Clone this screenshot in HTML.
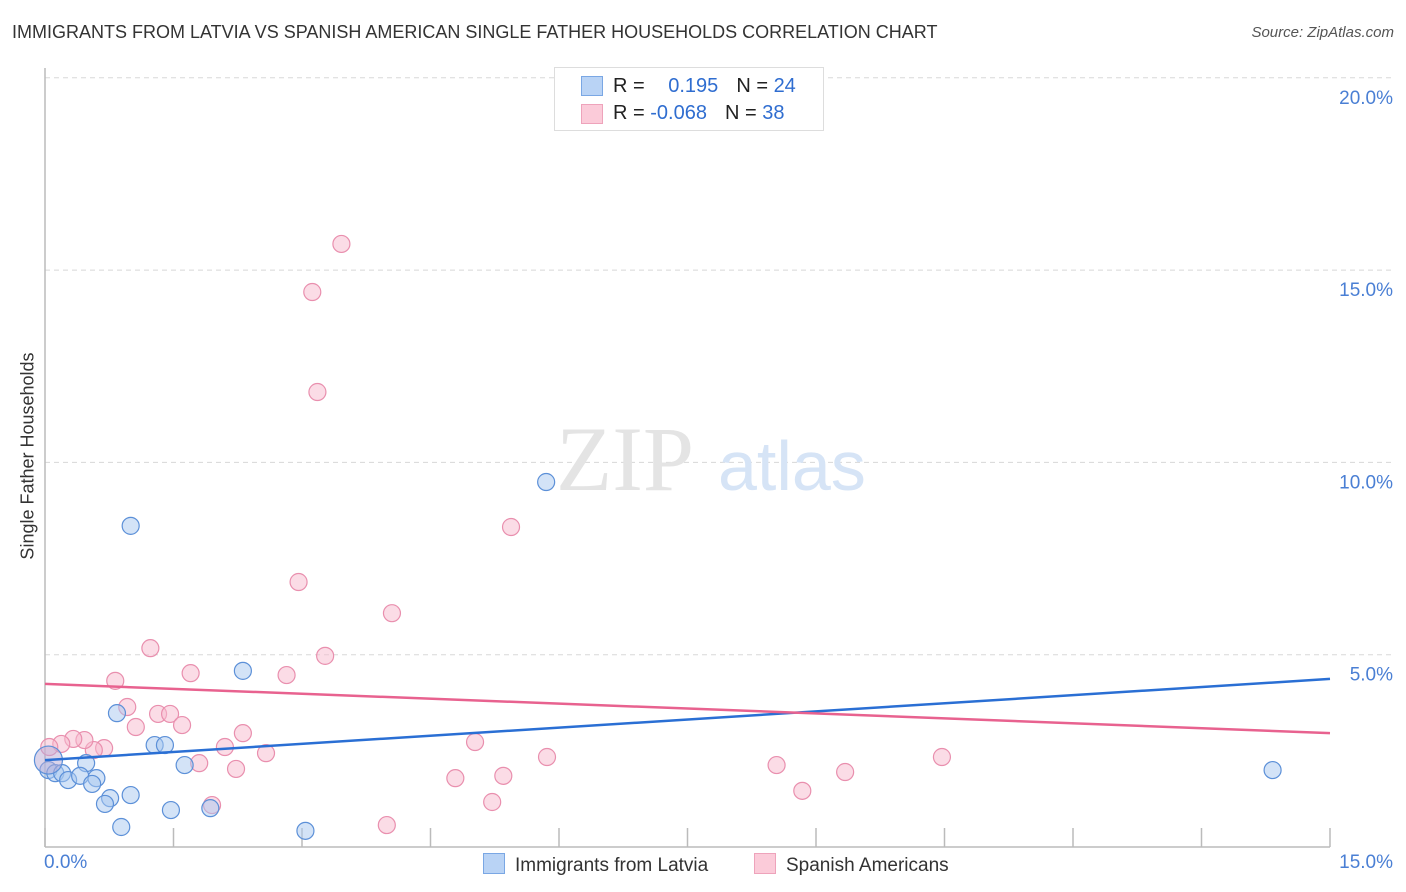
<!DOCTYPE html>
<html><head><meta charset="utf-8"><style>
body{margin:0;background:#fff;font-family:"Liberation Sans",sans-serif}
#wrap{position:relative;width:1406px;height:892px;overflow:hidden}
.t{position:absolute;white-space:nowrap}
</style></head><body>
<div id="wrap">
<div class="t" style="left:12px;top:22px;font-size:18px;color:#333">IMMIGRANTS FROM LATVIA VS SPANISH AMERICAN SINGLE FATHER HOUSEHOLDS CORRELATION CHART</div>
<div class="t" style="right:12px;top:24px;font-size:15px;color:#555;font-style:italic">Source: ZipAtlas.com</div>
<svg id="svg" width="1406" height="892" style="position:absolute;left:0;top:0"></svg>
</div>
<script>
const blueX=[1.00,5.85,2.31,0.84,1.28,1.40,1.63,0.48,0.04,0.12,0.20,0.27,0.41,0.60,0.55,0.76,0.70,1.00,0.89,1.47,1.93,3.04,14.33,0.04];
const blueY=[8.35,9.49,4.58,3.48,2.65,2.65,2.13,2.18,2.00,1.92,1.92,1.74,1.85,1.79,1.64,1.27,1.12,1.35,0.52,0.96,1.01,0.42,2.00,2.26];
const pinkX=[3.46,3.12,3.18,5.44,2.96,4.05,1.23,3.27,1.70,2.82,0.82,0.96,1.32,1.46,1.06,1.60,2.31,2.10,0.69,0.57,0.46,0.33,0.19,0.05,2.58,1.80,2.23,5.02,5.86,10.47,8.54,9.34,4.79,5.35,8.84,5.22,1.95,3.99];
const pinkY=[15.68,14.43,11.83,8.32,6.89,6.08,5.17,4.97,4.52,4.47,4.32,3.64,3.46,3.46,3.12,3.17,2.96,2.60,2.57,2.52,2.78,2.81,2.68,2.60,2.44,2.18,2.03,2.73,2.34,2.34,2.13,1.95,1.79,1.85,1.46,1.17,1.09,0.57];
const blueTrend=[2.26,4.37];
const pinkTrend=[4.24,2.96];
const yTicks=[5,10,15,20];
const yTickLabels=["5.0%","10.0%","15.0%","20.0%"];
const xTickVals=[0,1.5,3,4.5,6,7.5,9,10.5,12,13.5,15];
const X0=45,X1=1330,Y0=847,PPY=38.46;
const sx=v=>X0+v/15*(X1-X0);
const sy=v=>Y0-v*PPY;
const svg=document.getElementById('svg');
const NS='http://www.w3.org/2000/svg';
function mk(tag,a){const e=document.createElementNS(NS,tag);for(const k in a)e.setAttribute(k,a[k]);svg.appendChild(e);return e;}
// gridlines and labels
yTicks.forEach((v,i)=>{
 const g=mk('line',{x1:X0,x2:1393,y1:sy(v),y2:sy(v),stroke:'#d8d8d8','stroke-dasharray':'5,4'});
 
 
 const t=mk('text',{x:1393,y:sy(v)+26,'text-anchor':'end','font-size':19,fill:'#4a7fd4','font-family':'Liberation Sans'});
 t.textContent=yTickLabels[i];
 
 
});
// watermark
const w1=mk('text',{x:556,y:490,'font-size':92,fill:'#e4e4e4','font-family':'Liberation Serif'});w1.textContent='ZIP';


const w2=mk('text',{x:718,y:490,'font-size':70,fill:'#d6e4f6','font-family':'Liberation Sans'});w2.textContent='atlas';


// axes
const ya=mk('line',{x1:X0,x2:X0,y1:68,y2:Y0,stroke:'#bbb','stroke-width':1.5});


const xa=mk('line',{x1:X0,x2:X1,y1:Y0,y2:Y0,stroke:'#bbb','stroke-width':1.5});


xTickVals.forEach(v=>{const t=mk('line',{x1:sx(v),x2:sx(v),y1:Y0,y2:Y0-19,stroke:'#bbb','stroke-width':1.5});
 
 });
// points
function pts(xs,ys,fill,stroke,name){xs.forEach((x,i)=>{
 const big=(name==='blue-point'&&i===xs.length-1);
 const c=mk('circle',{cx:sx(x),cy:sy(ys[i]),r:big?14:8.5,fill:big?'#b8a9d6':fill,'fill-opacity':0.5,stroke:stroke,'stroke-width':1.2});
 
 });}
pts(pinkX,pinkY,'#f7b9cd','#e98fae','pink-point');
pts(blueX,blueY,'#a8c8f0','#5c90d8','blue-point');
const bl=mk('line',{x1:sx(0),x2:sx(15),y1:sy(blueTrend[0]),y2:sy(blueTrend[1]),stroke:'#2a6fd4','stroke-width':2.5});


const pl=mk('line',{x1:sx(0),x2:sx(15),y1:sy(pinkTrend[0]),y2:sy(pinkTrend[1]),stroke:'#e8628f','stroke-width':2.5});


</script>
<div class="t" style="left:28px;top:456px;font-size:18px;color:#333;transform:translate(-50%,-50%) rotate(-90deg)">Single Father Households</div>
<div class="t" style="left:44px;top:852px;font-size:19px;color:#4a7fd4">0.0%</div>
<div class="t" style="right:13px;top:852px;font-size:19px;color:#4a7fd4">15.0%</div>
<div style="position:absolute;left:554px;top:67px;width:268px;height:62px;border:1px solid #ddd;background:#fff;font-size:20px;color:#222">
 <div style="position:absolute;left:26px;top:8px;width:20px;height:18px;background:#b9d3f5;border:1px solid #7aa7e4"></div>
 <div class="t" style="left:58px;top:7px">R = <span style="color:#2f6dd0;margin-left:18px">0.195</span><span style="margin-left:18px">N = </span><span style="color:#2f6dd0">24</span></div>
 <div style="position:absolute;left:26px;top:36px;width:20px;height:18px;background:#fbcbd9;border:1px solid #eea3bb"></div>
 <div class="t" style="left:58px;top:34px">R = <span style="color:#2f6dd0">-0.068</span><span style="margin-left:18px">N = </span><span style="color:#2f6dd0">38</span></div>
</div>
<div style="position:absolute;left:483px;top:853px;font-size:19px;color:#333"><span style="display:inline-block;width:20px;height:19px;background:#b9d3f5;border:1px solid #7aa7e4;vertical-align:-3px;margin-right:10px"></span>Immigrants from Latvia</div>
<div style="position:absolute;left:754px;top:853px;font-size:19px;color:#333"><span style="display:inline-block;width:20px;height:19px;background:#fbcbd9;border:1px solid #eea3bb;vertical-align:-3px;margin-right:10px"></span>Spanish Americans</div>
</body></html>
